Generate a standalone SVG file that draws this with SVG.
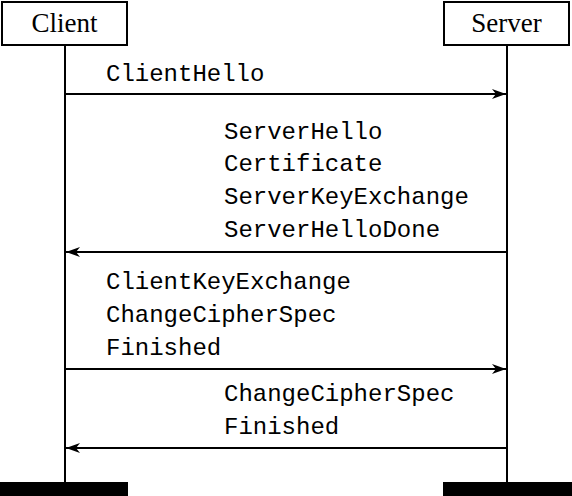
<svg xmlns="http://www.w3.org/2000/svg" width="572" height="496" viewBox="0 0 572 496">
<style>
.box{fill:#fff;stroke:#000;stroke-width:2}
.life{stroke:#000;stroke-width:2;fill:none}
.msg{stroke:#000;stroke-width:2;fill:none;marker-end:url(#ah)}
.lbl{font-family:"Liberation Serif","Times New Roman",serif;font-size:27px;fill:#000}
.mono{font-family:"Liberation Mono","DejaVu Sans Mono",monospace;font-size:24px;fill:#000}
</style>
<defs>
<marker id="ah" viewBox="0 0 14 10" refX="14" refY="5" markerWidth="14" markerHeight="10" markerUnits="userSpaceOnUse" orient="auto">
<path d="M0,0 L14,5 L0,10 L4,5 Z" fill="#000"/>
</marker>
</defs>
<g id="client">
<rect class="box" x="2" y="2" width="125" height="43"/>
<text class="lbl" x="64.5" y="32" text-anchor="middle">Client</text>
<line class="life" x1="65" y1="45" x2="65" y2="483"/>
<rect x="0" y="482" width="128" height="14" fill="#000"/>
</g>
<g id="server">
<rect class="box" x="444" y="2" width="125" height="43"/>
<text class="lbl" x="506.5" y="32" text-anchor="middle">Server</text>
<line class="life" x1="507" y1="45" x2="507" y2="483"/>
<rect x="443" y="482" width="129" height="14" fill="#000"/>
</g>
<g id="connectors">
<line class="msg" x1="65" y1="94" x2="506" y2="94"/>
<line class="msg" x1="507" y1="252" x2="66" y2="252"/>
<line class="msg" x1="65" y1="369" x2="506" y2="369"/>
<line class="msg" x1="507" y1="448" x2="66" y2="448"/>
</g>
<g id="labels">
<text class="mono" x="106" y="81">ClientHello</text>
<text class="mono" x="224" y="139">ServerHello</text>
<text class="mono" x="224" y="171">Certificate</text>
<text class="mono" x="224" y="204">ServerKeyExchange</text>
<text class="mono" x="224" y="237">ServerHelloDone</text>
<text class="mono" x="106" y="289">ClientKeyExchange</text>
<text class="mono" x="106" y="322">ChangeCipherSpec</text>
<text class="mono" x="106" y="355">Finished</text>
<text class="mono" x="224" y="401">ChangeCipherSpec</text>
<text class="mono" x="224" y="434">Finished</text>
</g>
</svg>
